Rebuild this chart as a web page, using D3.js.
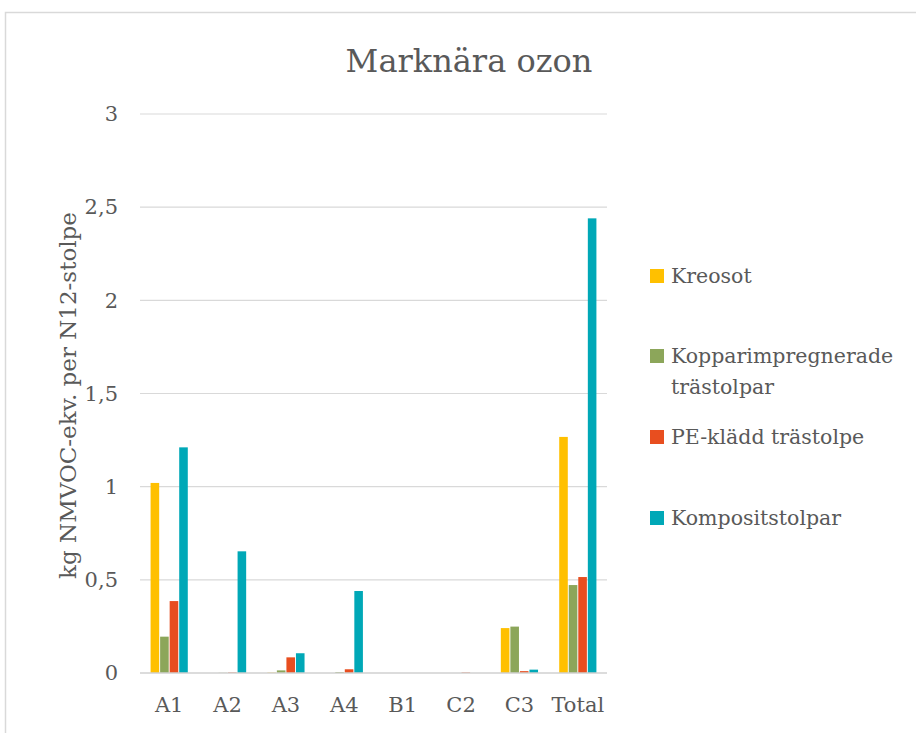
<!DOCTYPE html>
<html>
<head>
<meta charset="utf-8">
<script src="https://cdn.jsdelivr.net/npm/d3@7"></script>
<style>
  body { margin: 0; background: #fff; }
  svg text { font-family: "DejaVu Serif", serif; fill: #595959; }
</style>
</head>
<body>
<svg id="chart" width="916" height="733"></svg>
<script>
const categories = ['A1', 'A2', 'A3', 'A4', 'B1', 'C2', 'C3', 'Total'];
const seriesNames = ['Kreosot', 'Kopparimpregnerade trästolpar', 'PE-klädd trästolpe', 'Kompositstolpar'];
const kreosot = [1.02, 0, 0.002, 0, 0, 0, 0.241, 1.267];
const koppar = [0.195, 0.001, 0.014, 0.005, 0, 0, 0.249, 0.472];
const pe = [0.386, 0.003, 0.084, 0.02, 0, 0.003, 0.01, 0.515];
const komposit = [1.211, 0.653, 0.106, 0.44, 0, 0, 0.018, 2.44];
const yTicks = [0, 0.5, 1, 1.5, 2, 2.5, 3];
const colors = ['#FFC000', '#8CA65A', '#E84E1F', '#00A8B7'];

const width = 916, height = 733;
const margin = { top: 114, right: 309, bottom: 60, left: 140 };
const svg = d3.select('#chart');

// chart frame
svg.append('rect')
  .attr('x', 5.5).attr('y', 12.5)
  .attr('width', 1000).attr('height', 1000)
  .attr('fill', 'none').attr('stroke', '#d9d9d9').attr('stroke-width', 1.5);

const x = d3.scaleBand()
  .domain(categories)
  .range([margin.left, width - margin.right])
  .paddingInner(0.33).paddingOuter(0.165);

const xs = d3.scaleBand()
  .domain(d3.range(4))
  .range([0, x.bandwidth()])
  .padding(0.1);

const y = d3.scaleLinear()
  .domain([0, 3])
  .range([height - margin.bottom, margin.top]);

const fmt = d3.formatLocale({ decimal: ',', thousands: ' ', grouping: [3], currency: ['', ' kr'] }).format('~g');

// gridlines
svg.append('g')
  .selectAll('line')
  .data(yTicks.filter(d => d > 0))
  .join('line')
  .attr('x1', margin.left).attr('x2', width - margin.right)
  .attr('y1', d => y(d)).attr('y2', d => y(d))
  .attr('stroke', '#d9d9d9').attr('stroke-width', 1.2);

const data = [kreosot, koppar, pe, komposit];
svg.append('g')
  .selectAll('g')
  .data(data)
  .join('g')
  .attr('fill', (d, i) => colors[i])
  .each(function (vals, si) {
    d3.select(this).selectAll('rect')
      .data(vals)
      .join('rect')
      .attr('x', (d, i) => x(categories[i]) + xs(si))
      .attr('width', xs.bandwidth())
      .attr('y', d => y(d))
      .attr('height', d => y(0) - y(d));
  });

// baseline axis
svg.append('line')
  .attr('x1', margin.left).attr('x2', width - margin.right)
  .attr('y1', y(0)).attr('y2', y(0))
  .attr('stroke', '#d0d0d0').attr('stroke-width', 1.5);

// y axis
const yAxis = svg.append('g')
  .attr('transform', `translate(${margin.left},0)`)
  .call(d3.axisLeft(y).tickValues(yTicks).tickFormat(fmt).tickSize(0).tickPadding(22));
yAxis.select('.domain').remove();
yAxis.attr('font-family', null);
yAxis.selectAll('text').attr('font-size', 21).attr('fill', '#595959');

// x axis
const xAxis = svg.append('g')
  .attr('transform', `translate(0,${y(0)})`)
  .call(d3.axisBottom(x).tickSize(0).tickPadding(24));
xAxis.select('.domain').remove();
xAxis.attr('font-family', null);
xAxis.selectAll('text').attr('font-size', 21).attr('fill', '#595959');

// title
svg.append('text')
  .attr('x', 469).attr('y', 72)
  .attr('text-anchor', 'middle')
  .attr('font-size', 32)
  .text('Marknära ozon');

// y label
svg.append('text')
  .attr('transform', `translate(76,${(y(0) + y(3)) / 2 + 2}) rotate(-90)`)
  .attr('text-anchor', 'middle')
  .attr('font-size', 23)
  .text('kg NMVOC-ekv. per N12-stolpe');

// legend
const legendRows = [
  { lines: ['Kreosot'], y: 276 },
  { lines: ['Kopparimpregnerade', 'trästolpar'], y: 356 },
  { lines: ['PE-klädd trästolpe'], y: 437 },
  { lines: ['Kompositstolpar'], y: 518 }
];
const lg = svg.append('g')
  .selectAll('g')
  .data(legendRows)
  .join('g')
  .attr('transform', d => `translate(650,${d.y})`);
lg.append('rect')
  .attr('x', 0).attr('y', -7).attr('width', 14).attr('height', 14)
  .attr('fill', (d, i) => colors[i]);
lg.each(function (d) {
  d3.select(this).selectAll('text')
    .data(d.lines)
    .join('text')
    .attr('x', 21)
    .attr('y', (t, j) => 7 + j * 31)
    .attr('font-size', 20.5)
    .text(t => t);
});
</script>
</body>
</html>
